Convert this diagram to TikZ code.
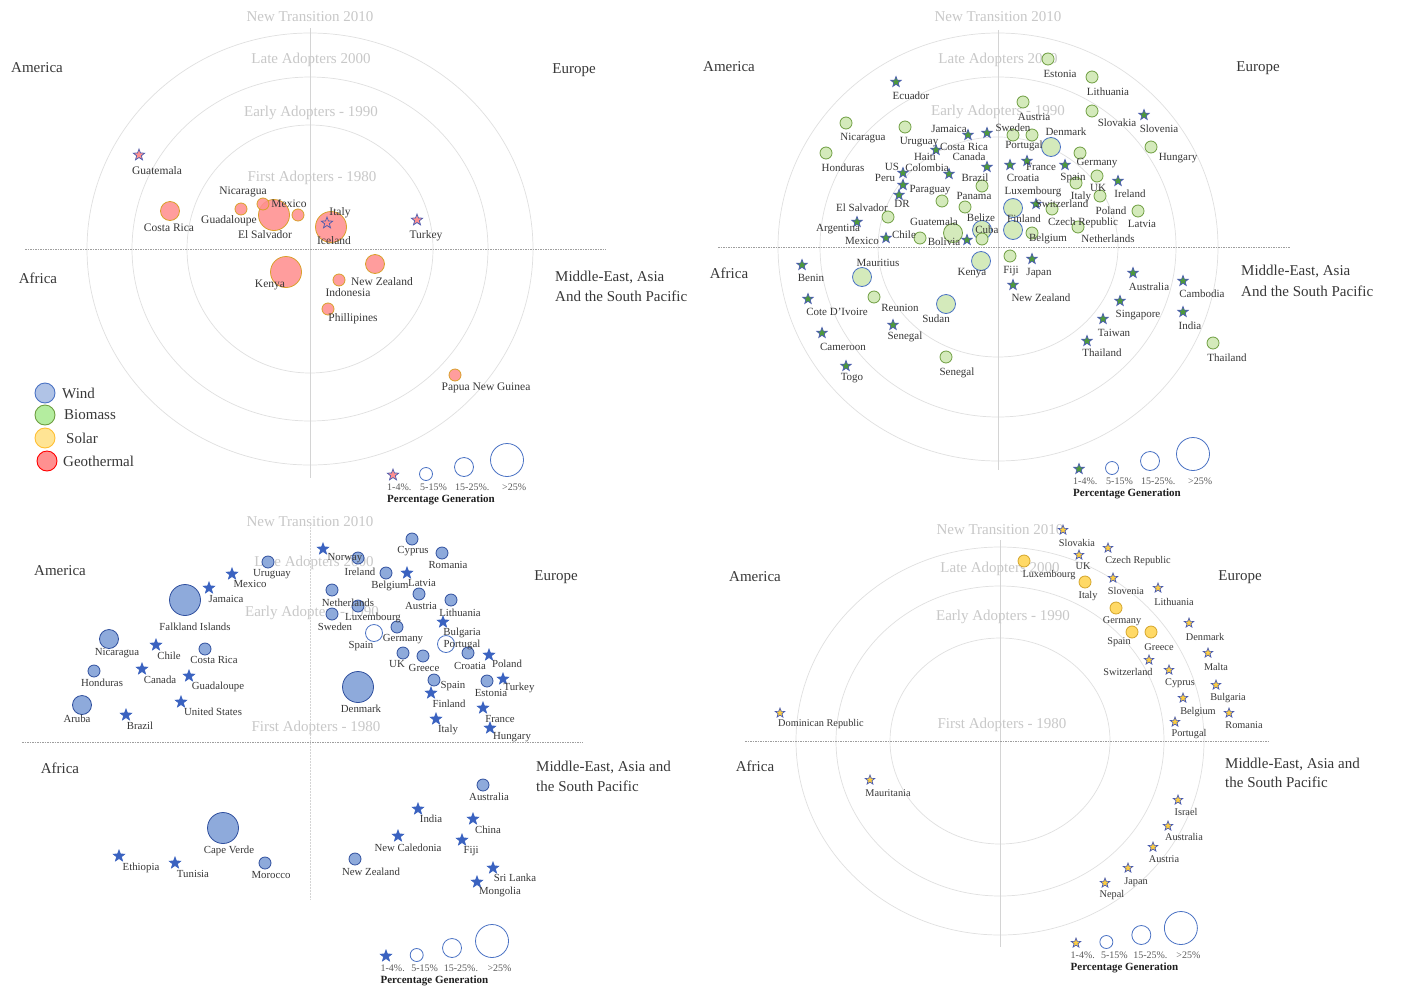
\documentclass[tikz,border=0pt]{standalone}
\usepackage{fontspec}
\setmainfont{Liberation Serif}
\usetikzlibrary{shapes.geometric}
\definecolor{txt}{HTML}{383838}
\definecolor{ringc}{HTML}{E0E0E0}
\definecolor{ringtxt}{HTML}{C8C8C8}
\definecolor{geofill}{HTML}{FF9090}
\definecolor{geodraw}{HTML}{D9A02A}
\definecolor{starblue}{HTML}{4A5CB0}
\definecolor{biofill}{HTML}{D4EABB}
\definecolor{biodraw}{HTML}{6E9E40}
\definecolor{bigblue}{HTML}{4A72C4}
\definecolor{biostarc}{HTML}{4E9A3C}
\definecolor{windfill}{HTML}{8EAADB}
\definecolor{winddraw}{HTML}{2F4F9E}
\definecolor{windstarc}{HTML}{3A62C0}
\definecolor{solfill}{HTML}{FFD966}
\definecolor{soldraw}{HTML}{D4A52A}
\definecolor{solstarc}{HTML}{FFCF40}
\newcommand\mkpt[3]{\node[#1] (#2) at (#3) {};}
\newcommand\mklb[4]{\node[#1] (#2) at (#3) {#4};}
\newcommand\sizeleg[5]{%
\begin{scope}[shift={(#1,#2)},#5]
\node[#3] (#4s) at (0,0) {};
\node[legc,minimum size=13pt] (#4a) at (33,-1) {};
\node[legc,minimum size=19pt] (#4b) at (71,-8) {};
\node[legc,minimum size=33pt] (#4c) at (114,-15) {};
\node[legt] (#4t1) at (-6,12) {1-4\%.};
\node[legt] (#4t2) at (27,12) {5-15\%};
\node[legt] (#4t3) at (62,12) {15-25\%.};
\node[legt] (#4t4) at (109,12) {>25\%};
\node[legb] (#4t5) at (-6,25) {Percentage Generation};
\end{scope}}
\begin{document}
\begin{tikzpicture}[x=1pt,y=-1pt,
 ring/.style={draw=ringc, line width=0.7pt},
 vax/.style={draw=black!17, line width=0.7pt},
 hax/.style={draw=black!38, line width=0.6pt, dash pattern=on 1.5pt off 1pt},
 ringlab/.style={text=ringtxt, inner sep=0, font=\fontsize{15}{15}\selectfont},
 region/.style={text=txt, inner sep=0, font=\fontsize{15}{18}\selectfont},
 regw/.style={region, anchor=west},
 lA/.style={text=txt, inner sep=0, font=\fontsize{11.5}{12}\selectfont},
 lB/.style={text=txt, inner sep=0, font=\fontsize{11}{12}\selectfont},
 lC/.style={text=txt, inner sep=0, font=\fontsize{10.8}{12}\selectfont},
 lD/.style={text=txt, inner sep=0, font=\fontsize{10.3}{12}\selectfont},
 dot/.style={circle, inner sep=0, line width=0.8pt},
 sS/.style={minimum size=12pt},
 sM/.style={minimum size=19pt},
 sL/.style={minimum size=31pt},
 geo/.style={dot, fill=geofill, draw=geodraw, fill opacity=0.88},
 bio/.style={dot, fill=biofill, draw=biodraw},
 biob/.style={dot, fill=biofill, draw=bigblue},
 wnd/.style={dot, fill=windfill, draw=winddraw},
 wndo/.style={dot, fill=white, draw=bigblue, minimum size=17pt},
 sol/.style={dot, fill=solfill, draw=soldraw, sS},
 stb/.style={star, star points=5, star point ratio=2.4, minimum size=11pt, inner sep=0, line width=0.7pt},
 geostar/.style={stb, minimum size=12pt, fill=geofill, draw=starblue},
 biostar/.style={stb, fill=biostarc, draw=starblue},
 wstar/.style={stb, minimum size=12pt, fill=windstarc, draw=windstarc},
 solstar/.style={stb, minimum size=10pt, fill=solstarc, draw=starblue},
 legc/.style={circle, inner sep=0, draw=bigblue, line width=0.8pt, fill=white},
 legt/.style={anchor=west, inner sep=0, text=black!65, font=\fontsize{10}{10}\selectfont},
 legb/.style={anchor=west, inner sep=0, text=black!88, font=\bfseries\fontsize{11}{11}\selectfont},
 keyc/.style={circle, inner sep=0, minimum size=20pt, line width=0.9pt},
 keyt/.style={anchor=west, inner sep=0, text=txt, font=\fontsize{15}{16}\selectfont}]
\useasboundingbox (0,0) rectangle (1402,988);
\fill[white] (0,0) rectangle (1402,988);

% ================= TOP LEFT : Geothermal =================
\draw[ring] (310,249) ellipse [x radius=123pt, y radius=124pt];
\draw[ring] (310,249) ellipse [x radius=178pt, y radius=172pt];
\draw[ring] (310,249) ellipse [x radius=223pt, y radius=216pt];
\coordinate (tlvt) at (310,28); \coordinate (tlvb) at (310,478);
\coordinate (tlhl) at (25,249); \coordinate (tlhr) at (606,249);
\draw[vax] (tlvt) -- (tlvb);
\draw[hax] (tlhl) -- (tlhr);
\mklb{ringlab}{tlr1}{310,17}{New Transition 2010}
\mklb{ringlab}{tlr2}{311,60}{Late Adopters 2000}
\mklb{ringlab}{tlr3}{311,113}{Early Adopters - 1990}
\mklb{ringlab}{tlr4}{312,178}{First Adopters - 1980}
\mklb{region}{tlam}{37,68}{America}
\mklb{region}{tleu}{574,70}{Europe}
\mklb{region}{tlaf}{38,278}{Africa}
\mklb{regw}{tlme1}{555,277}{Middle-East, Asia}
\mklb{regw}{tlme2}{555,296}{And the South Pacific}

\mkpt{geo,sM}{g1}{170,211}
\mkpt{geo,sS}{g2}{241,209}
\mkpt{geo,sL}{g3}{274,215}
\mkpt{geo,sS}{g4}{263,204}
\mkpt{geo,sS}{g5}{298,215}
\mkpt{geo,sL}{g6}{331,227}
\mkpt{geo,sL}{g7}{286,272}
\mkpt{geo,sM}{g8}{375,264}
\mkpt{geo,sS}{g9}{339,280}
\mkpt{geo,sS}{g10}{328,309}
\mkpt{geo,sS}{g11}{455,375}
\mkpt{geostar}{g12}{139,155}
\mkpt{geostar}{g13}{327,223}
\mkpt{geostar}{g14}{417,220}
\mklb{lA}{gl1}{157,171}{Guatemala}
\mklb{lA}{gl2}{169,228}{Costa Rica}
\mklb{lA}{gl3}{243,192}{Nicaragua}
\mklb{lA}{gl4}{289,204}{Mexico}
\mklb{lA}{gl5}{229,221}{Guadaloupe}
\mklb{lA}{gl6}{265,235}{El Salvador}
\mklb{lA}{gl7}{340,213}{Italy}
\mklb{lA}{gl8}{334,241}{Iceland}
\mklb{lA}{gl9}{426,236}{Turkey}
\mklb{lA}{gl10}{270,285}{Kenya}
\mklb{lA}{gl11}{382,282}{New Zealand}
\mklb{lA}{gl12}{348,293}{Indonesia}
\mklb{lA}{gl13}{353,319}{Phillipines}
\mklb{lA}{gl14}{486,388}{Papua New Guinea}

% key
\node[keyc, fill=windfill!70!white, draw=bigblue] (k1) at (45,393) {};
\node[keyc, fill=biofill!85!green, draw=biodraw] (k2) at (45,415) {};
\node[keyc, fill=solfill!70!white, draw=solstarc!80!orange] (k3) at (45,438) {};
\node[keyc, fill=geofill, draw=red] (k4) at (47,461) {};
\mklb{keyt}{kt1}{62,393}{Wind}
\mklb{keyt}{kt2}{64,415}{Biomass}
\mklb{keyt}{kt3}{66,438}{Solar}
\mklb{keyt}{kt4}{63,461}{Geothermal}

\sizeleg{393}{475}{geostar}{tll}{}

% ================= TOP RIGHT : Biomass =================
\draw[ring] (998,247) ellipse [x radius=120pt, y radius=110pt];
\draw[ring] (998,247) ellipse [x radius=178pt, y radius=170pt];
\draw[ring] (998,247) ellipse [x radius=220pt, y radius=214pt];
\coordinate (trvt) at (998,30); \coordinate (trvb) at (998,470);
\coordinate (trhl) at (718,247); \coordinate (trhr) at (1290,247);
\draw[vax] (trvt) -- (trvb);
\draw[hax] (trhl) -- (trhr);
\mklb{ringlab}{trr1}{998,17}{New Transition 2010}
\mklb{ringlab}{trr2}{998,60}{Late Adopters 2000}
\mklb{ringlab}{trr3}{998,112}{Early Adopters - 1990}
\mklb{region}{tram}{729,67}{America}
\mklb{region}{treu}{1258,68}{Europe}
\mklb{region}{traf}{729,273}{Africa}
\mklb{regw}{trme1}{1241,271}{Middle-East, Asia}
\mklb{regw}{trme2}{1241,291}{And the South Pacific}

\mkpt{bio,sM}{b1}{953,233}
\mkpt{biob,sM}{b2}{982,230}
\mkpt{biob,sM}{b3}{1051,147}
\mkpt{biob,sM}{b4}{1013,208}
\mkpt{biob,sM}{b5}{1013,230}
\mkpt{biob,sM}{b6}{862,277}
\mkpt{biob,sM}{b7}{981,261}
\mkpt{biob,sM}{b8}{946,304}
\mkpt{bio,sS}{b9}{1023,102}
\mkpt{bio,sS}{b10}{846,123}
\mkpt{bio,sS}{b11}{905,127}
\mkpt{bio,sS}{b12}{826,153}
\mkpt{bio,sS}{b13}{1013,135}
\mkpt{bio,sS}{b14}{1032,135}
\mkpt{bio,sS}{b15}{982,186}
\mkpt{bio,sS}{b16}{942,201}
\mkpt{bio,sS}{b17}{965,207}
\mkpt{bio,sS}{b18}{888,217}
\mkpt{bio,sS}{b19}{920,238}
\mkpt{bio,sS}{b20}{982,239}
\mkpt{bio,sS}{b21}{1032,233}
\mkpt{bio,sS}{b22}{1048,59}
\mkpt{bio,sS}{b23}{1092,77}
\mkpt{bio,sS}{b24}{1092,111}
\mkpt{bio,sS}{b25}{1151,147}
\mkpt{bio,sS}{b26}{1080,153}
\mkpt{bio,sS}{b27}{1076,183}
\mkpt{bio,sS}{b28}{1097,176}
\mkpt{bio,sS}{b29}{1100,196}
\mkpt{bio,sS}{b30}{1052,209}
\mkpt{bio,sS}{b31}{1138,211}
\mkpt{bio,sS}{b32}{1078,227}
\mkpt{bio,sS}{b33}{1010,256}
\mkpt{bio,sS}{b34}{874,297}
\mkpt{bio,sS}{b35}{946,357}
\mkpt{bio,sS}{b36}{1213,343}
\mkpt{biostar}{bs1}{896,82}
\mkpt{biostar}{bs2}{968,135}
\mkpt{biostar}{bs3}{987,133}
\mkpt{biostar}{bs4}{936,150}
\mkpt{biostar}{bs5}{903,173}
\mkpt{biostar}{bs6}{949,174}
\mkpt{biostar}{bs7}{987,167}
\mkpt{biostar}{bs8}{1010,165}
\mkpt{biostar}{bs9}{1027,161}
\mkpt{biostar}{bs10}{1065,165}
\mkpt{biostar}{bs11}{903,185}
\mkpt{biostar}{bs12}{899,195}
\mkpt{biostar}{bs13}{857,222}
\mkpt{biostar}{bs14}{886,238}
\mkpt{biostar}{bs15}{967,240}
\mkpt{biostar}{bs16}{1036,204}
\mkpt{biostar}{bs17}{1144,115}
\mkpt{biostar}{bs18}{1118,181}
\mkpt{biostar}{bs19}{1032,259}
\mkpt{biostar}{bs20}{802,265}
\mkpt{biostar}{bs21}{1013,285}
\mkpt{biostar}{bs22}{808,299}
\mkpt{biostar}{bs23}{893,325}
\mkpt{biostar}{bs24}{822,333}
\mkpt{biostar}{bs25}{846,366}
\mkpt{biostar}{bs26}{1133,273}
\mkpt{biostar}{bs27}{1183,281}
\mkpt{biostar}{bs28}{1120,301}
\mkpt{biostar}{bs29}{1183,312}
\mkpt{biostar}{bs30}{1103,319}
\mkpt{biostar}{bs31}{1087,341}

\mklb{lB}{bl1}{911,96}{Ecuador}
\mklb{lB}{bl2}{863,138}{Nicaragua}
\mklb{lB}{bl3}{919,142}{Uruguay}
\mklb{lB}{bl4}{843,168}{Honduras}
\mklb{lB}{bl5}{949,129}{Jamaica}
\mklb{lB}{bl6}{1013,128}{Sweden}
\mklb{lB}{bl7}{925,157}{Haiti}
\mklb{lB}{bl8}{964,147}{Costa Rica}
\mklb{lB}{bl9}{969,157}{Canada}
\mklb{lB}{bl10}{892,167}{US}
\mklb{lB}{bl11}{927,168}{Colombia}
\mklb{lB}{bl12}{885,178}{Peru}
\mklb{lB}{bl13}{975,178}{Brazil}
\mklb{lB}{bl14}{930,190}{Paraguay}
\mklb{lB}{bl15}{974,196}{Panama}
\mklb{lB}{bl16}{902,204}{DR}
\mklb{lB}{bl17}{862,208}{El Salvador}
\mklb{lB}{bl18}{934,222}{Guatemala}
\mklb{lB}{bl19}{981,218}{Belize}
\mklb{lB}{bl20}{838,229}{Argentina}
\mklb{lB}{bl21}{987,230}{Cuba}
\mklb{lB}{bl22}{862,241}{Mexico}
\mklb{lB}{bl23}{904,235}{Chile}
\mklb{lB}{bl24}{944,242}{Bolivia}
\mklb{lB}{bl25}{1060,74}{Estonia}
\mklb{lB}{bl26}{1108,92}{Lithuania}
\mklb{lB}{bl27}{1034,117}{Austria}
\mklb{lB}{bl28}{1117,123}{Slovakia}
\mklb{lB}{bl29}{1159,129}{Slovenia}
\mklb{lB}{bl30}{1066,132}{Denmark}
\mklb{lB}{bl31}{1024,146}{Portugal}
\mklb{lB}{bl32}{1178,158}{Hungary}
\mklb{lB}{bl33}{1097,163}{Germany}
\mklb{lB}{bl34}{1041,167}{France}
\mklb{lB}{bl35}{1023,178}{Croatia}
\mklb{lB}{bl36}{1073,178}{Spain}
\mklb{lB}{bl37}{1098,188}{UK}
\mklb{lB}{bl38}{1130,194}{Ireland}
\mklb{lB}{bl39}{1033,192}{Luxembourg}
\mklb{lB}{bl40}{1081,197}{Italy}
\mklb{lB}{bl41}{1062,204}{Switzerland}
\mklb{lB}{bl42}{1111,211}{Poland}
\mklb{lB}{bl43}{1024,219}{Finland}
\mklb{lB}{bl44}{1083,223}{Czech Republic}
\mklb{lB}{bl45}{1142,224}{Latvia}
\mklb{lB}{bl46}{1048,239}{Belgium}
\mklb{lB}{bl47}{1108,239}{Netherlands}
\mklb{lB}{bl48}{811,278}{Benin}
\mklb{lB}{bl49}{878,263}{Mauritius}
\mklb{lB}{bl50}{972,273}{Kenya}
\mklb{lB}{bl51}{1011,271}{Fiji}
\mklb{lB}{bl52}{1039,273}{Japan}
\mklb{lB}{bl53}{1041,298}{New Zealand}
\mklb{lB}{bl54}{837,312}{Cote D'Ivoire}
\mklb{lB}{bl55}{900,308}{Reunion}
\mklb{lB}{bl56}{936,319}{Sudan}
\mklb{lB}{bl57}{905,337}{Senegal}
\mklb{lB}{bl58}{843,347}{Cameroon}
\mklb{lB}{bl59}{852,378}{Togo}
\mklb{lB}{bl60}{957,373}{Senegal}
\mklb{lB}{bl61}{1149,287}{Australia}
\mklb{lB}{bl62}{1202,294}{Cambodia}
\mklb{lB}{bl63}{1138,315}{Singapore}
\mklb{lB}{bl64}{1190,326}{India}
\mklb{lB}{bl65}{1114,333}{Taiwan}
\mklb{lB}{bl66}{1102,353}{Thailand}
\mklb{lB}{bl67}{1227,358}{Thailand}

\sizeleg{1079}{469}{biostar}{trl}{}

% ================= BOTTOM LEFT : Wind =================
\coordinate (blvt) at (310,525); \coordinate (blvb) at (310,900);
\coordinate (blhl) at (22,742); \coordinate (blhr) at (583,742);
\draw[vax, dash pattern=on 1pt off 0.5pt] (blvt) -- (blvb);
\draw[hax] (blhl) -- (blhr);
\mklb{ringlab}{blr1}{310,522}{New Transition 2010}
\mklb{ringlab}{blr2}{314,563}{Late Adopters 2000}
\mklb{ringlab}{blr3}{312,613}{Early Adopters - 1990}
\mklb{ringlab}{blr4}{316,728}{First Adopters - 1980}
\mklb{region}{blam}{60,571}{America}
\mklb{region}{bleu}{556,577}{Europe}
\mklb{region}{blaf}{60,768}{Africa}
\mklb{regw}{blme1}{536,767}{Middle-East, Asia and}
\mklb{regw}{blme2}{536,786}{the South Pacific}

\mkpt{wnd,sS}{w1}{268,562}
\mkpt{wnd,sL}{w2}{185,600}
\mkpt{wnd,sM}{w3}{109,639}
\mkpt{wnd,sS}{w4}{205,649}
\mkpt{wnd,sS}{w5}{94,671}
\mkpt{wnd,sM}{w6}{82,705}
\mkpt{wnd,sS}{w7}{358,558}
\mkpt{wnd,sS}{w8}{412,539}
\mkpt{wnd,sS}{w9}{442,553}
\mkpt{wnd,sS}{w10}{386,573}
\mkpt{wnd,sS}{w11}{419,594}
\mkpt{wnd,sS}{w12}{451,600}
\mkpt{wnd,sS}{w13}{332,590}
\mkpt{wnd,sS}{w14}{358,606}
\mkpt{wnd,sS}{w15}{332,614}
\mkpt{wnd,sS}{w16}{397,627}
\mkpt{wnd,sS}{w17}{403,653}
\mkpt{wnd,sS}{w18}{423,656}
\mkpt{wnd,sS}{w19}{468,653}
\mkpt{wnd,sS}{w20}{434,680}
\mkpt{wnd,sS}{w21}{487,681}
\mkpt{wnd,sL}{w22}{358,687}
\mkpt{wnd,sS}{w23}{483,785}
\mkpt{wnd,sS}{w24}{355,859}
\mkpt{wnd,sL}{w25}{223,828}
\mkpt{wnd,sS}{w26}{265,863}
\mkpt{wndo}{w27}{374,633}
\mkpt{wndo}{w28}{446,644}
\mkpt{wstar}{ws1}{232,574}
\mkpt{wstar}{ws2}{209,588}
\mkpt{wstar}{ws3}{156,645}
\mkpt{wstar}{ws4}{142,669}
\mkpt{wstar}{ws5}{189,676}
\mkpt{wstar}{ws6}{126,715}
\mkpt{wstar}{ws7}{181,702}
\mkpt{wstar}{ws8}{323,549}
\mkpt{wstar}{ws9}{407,573}
\mkpt{wstar}{ws10}{443,622}
\mkpt{wstar}{ws11}{489,655}
\mkpt{wstar}{ws12}{503,679}
\mkpt{wstar}{ws13}{431,693}
\mkpt{wstar}{ws14}{483,708}
\mkpt{wstar}{ws15}{436,719}
\mkpt{wstar}{ws16}{490,728}
\mkpt{wstar}{ws17}{418,809}
\mkpt{wstar}{ws18}{473,819}
\mkpt{wstar}{ws19}{398,836}
\mkpt{wstar}{ws20}{462,840}
\mkpt{wstar}{ws21}{493,868}
\mkpt{wstar}{ws22}{477,882}
\mkpt{wstar}{ws23}{119,856}
\mkpt{wstar}{ws24}{175,863}

\mklb{lC}{wl1}{272,574}{Uruguay}
\mklb{lC}{wl2}{250,584}{Mexico}
\mklb{lC}{wl3}{226,599}{Jamaica}
\mklb{lC}{wl4}{195,627}{Falkland Islands}
\mklb{lC}{wl5}{117,653}{Nicaragua}
\mklb{lC}{wl6}{169,656}{Chile}
\mklb{lC}{wl7}{214,660}{Costa Rica}
\mklb{lC}{wl8}{102,683}{Honduras}
\mklb{lC}{wl9}{160,680}{Canada}
\mklb{lC}{wl10}{218,687}{Guadaloupe}
\mklb{lC}{wl11}{77,719}{Aruba}
\mklb{lC}{wl12}{140,726}{Brazil}
\mklb{lC}{wl13}{213,712}{United States}
\mklb{lC}{wl14}{345,558}{Norway}
\mklb{lC}{wl15}{360,572}{Ireland}
\mklb{lC}{wl16}{413,551}{Cyprus}
\mklb{lC}{wl17}{448,565}{Romania}
\mklb{lC}{wl18}{390,586}{Belgium}
\mklb{lC}{wl19}{422,583}{Latvia}
\mklb{lC}{wl20}{421,606}{Austria}
\mklb{lC}{wl21}{460,613}{Lithuania}
\mklb{lC}{wl22}{348,603}{Netherlands}
\mklb{lC}{wl23}{373,618}{Luxembourg}
\mklb{lC}{wl24}{335,627}{Sweden}
\mklb{lC}{wl25}{403,639}{Germany}
\mklb{lC}{wl26}{361,646}{Spain}
\mklb{lC}{wl27}{462,633}{Bulgaria}
\mklb{lC}{wl28}{462,645}{Portugal}
\mklb{lC}{wl29}{397,664}{UK}
\mklb{lC}{wl30}{424,668}{Greece}
\mklb{lC}{wl31}{470,666}{Croatia}
\mklb{lC}{wl32}{507,664}{Poland}
\mklb{lC}{wl33}{453,686}{Spain}
\mklb{lC}{wl34}{491,693}{Estonia}
\mklb{lC}{wl35}{519,688}{Turkey}
\mklb{lC}{wl36}{449,704}{Finland}
\mklb{lC}{wl37}{361,709}{Denmark}
\mklb{lC}{wl38}{500,719}{France}
\mklb{lC}{wl39}{448,730}{Italy}
\mklb{lC}{wl40}{512,737}{Hungary}
\mklb{lC}{wl41}{489,797}{Australia}
\mklb{lC}{wl42}{431,819}{India}
\mklb{lC}{wl43}{488,830}{China}
\mklb{lC}{wl44}{408,848}{New Caledonia}
\mklb{lC}{wl45}{471,851}{Fiji}
\mklb{lC}{wl46}{371,872}{New Zealand}
\mklb{lC}{wl47}{515,878}{Sri Lanka}
\mklb{lC}{wl48}{500,892}{Mongolia}
\mklb{lC}{wl49}{229,851}{Cape Verde}
\mklb{lC}{wl50}{141,868}{Ethiopia}
\mklb{lC}{wl51}{193,874}{Tunisia}
\mklb{lC}{wl52}{271,875}{Morocco}

\sizeleg{386}{956}{wstar}{bll}{xscale=0.93}

% ================= BOTTOM RIGHT : Solar =================
\draw[ring] (1000,741) ellipse [x radius=110pt, y radius=103pt];
\draw[ring] (1000,741) ellipse [x radius=164pt, y radius=155pt];
\draw[ring] (1000,741) ellipse [x radius=204pt, y radius=194pt];
\coordinate (brvt) at (1000,540); \coordinate (brvb) at (1000,947);
\coordinate (brhl) at (745,741); \coordinate (brhr) at (1268,741);
\draw[vax] (brvt) -- (brvb);
\draw[hax] (brhl) -- (brhr);
\mklb{ringlab}{brr1}{1000,530}{New Transition 2010}
\mklb{ringlab}{brr2}{1000,569}{Late Adopters 2000}
\mklb{ringlab}{brr3}{1003,617}{Early Adopters - 1990}
\mklb{ringlab}{brr4}{1002,725}{First Adopters - 1980}
\mklb{region}{bram}{755,577}{America}
\mklb{region}{breu}{1240,577}{Europe}
\mklb{region}{braf}{755,766}{Africa}
\mklb{regw}{brme1}{1225,764}{Middle-East, Asia and}
\mklb{regw}{brme2}{1225,782}{the South Pacific}

\mkpt{sol}{s1}{1024,561}
\mkpt{sol}{s2}{1085,582}
\mkpt{sol}{s3}{1116,608}
\mkpt{sol}{s4}{1132,632}
\mkpt{sol}{s5}{1151,632}
\mkpt{solstar}{ss1}{1063,530}
\mkpt{solstar}{ss2}{1108,548}
\mkpt{solstar}{ss3}{1079,555}
\mkpt{solstar}{ss4}{1113,578}
\mkpt{solstar}{ss5}{1158,588}
\mkpt{solstar}{ss6}{1189,623}
\mkpt{solstar}{ss7}{1208,653}
\mkpt{solstar}{ss8}{1149,660}
\mkpt{solstar}{ss9}{1169,670}
\mkpt{solstar}{ss10}{1216,685}
\mkpt{solstar}{ss11}{1183,698}
\mkpt{solstar}{ss12}{1229,713}
\mkpt{solstar}{ss13}{1175,722}
\mkpt{solstar}{ss14}{780,713}
\mkpt{solstar}{ss15}{870,780}
\mkpt{solstar}{ss16}{1178,800}
\mkpt{solstar}{ss17}{1168,826}
\mkpt{solstar}{ss18}{1153,847}
\mkpt{solstar}{ss19}{1128,868}
\mkpt{solstar}{ss20}{1105,883}

\mklb{lD}{sl1}{1077,543}{Slovakia}
\mklb{lD}{sl2}{1083,566}{UK}
\mklb{lD}{sl3}{1138,561}{Czech Republic}
\mklb{lD}{sl4}{1049,575}{Luxembourg}
\mklb{lD}{sl5}{1088,596}{Italy}
\mklb{lD}{sl6}{1126,591}{Slovenia}
\mklb{lD}{sl7}{1174,602}{Lithuania}
\mklb{lD}{sl8}{1122,621}{Germany}
\mklb{lD}{sl9}{1119,642}{Spain}
\mklb{lD}{sl10}{1159,647}{Greece}
\mklb{lD}{sl11}{1205,637}{Denmark}
\mklb{lD}{sl12}{1216,667}{Malta}
\mklb{lD}{sl13}{1128,672}{Switzerland}
\mklb{lD}{sl14}{1180,683}{Cyprus}
\mklb{lD}{sl15}{1228,698}{Bulgaria}
\mklb{lD}{sl16}{1198,712}{Belgium}
\mklb{lD}{sl17}{1244,725}{Romania}
\mklb{lD}{sl18}{1189,734}{Portugal}
\mklb{lD}{sl19}{821,724}{Dominican Republic}
\mklb{lD}{sl20}{888,793}{Mauritania}
\mklb{lD}{sl21}{1186,812}{Israel}
\mklb{lD}{sl22}{1184,837}{Australia}
\mklb{lD}{sl23}{1164,859}{Austria}
\mklb{lD}{sl24}{1136,882}{Japan}
\mklb{lD}{sl25}{1112,895}{Nepal}

\sizeleg{1076}{943}{solstar}{brl}{xscale=0.92}
\end{tikzpicture}
\end{document}
